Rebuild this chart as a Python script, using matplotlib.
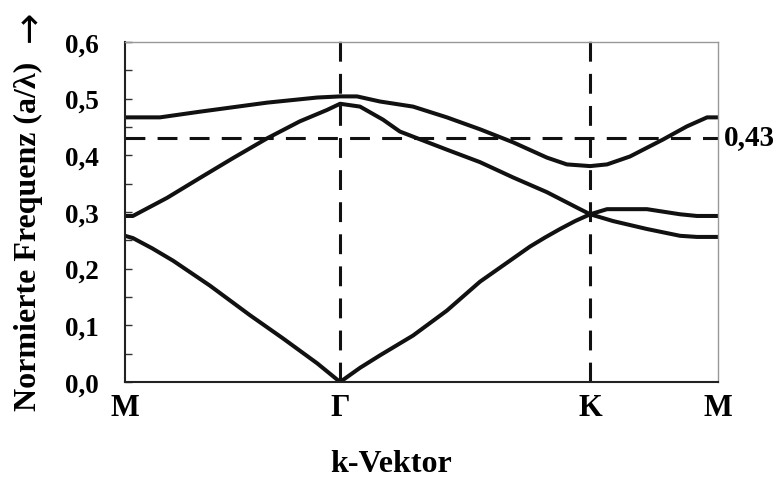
import matplotlib
matplotlib.use('Agg')
import matplotlib.pyplot as plt

plt.rcParams['font.family'] = ['Liberation Serif', 'DejaVu Serif']
plt.rcParams['font.weight'] = 'bold'

# k-path positions (M - Gamma - K - M)
k_points = [0.0, 0.572, 1.237, 1.577]
k_labels = ['M', 'Γ', 'K', 'M']

# band 1 (lowest)
k_band1 = [0.000, 0.021, 0.072, 0.128, 0.226, 0.332, 0.420, 0.511, 0.572,
           0.625, 0.678, 0.766, 0.856, 0.944, 1.032, 1.077, 1.117, 1.157,
           1.197, 1.237, 1.298, 1.388, 1.476, 1.521, 1.577]
f_band1 = [0.258, 0.254, 0.236, 0.214, 0.170, 0.118, 0.077, 0.033, 0.000,
           0.025, 0.047, 0.082, 0.126, 0.177, 0.218, 0.239, 0.255, 0.270,
           0.284, 0.296, 0.284, 0.270, 0.258, 0.256, 0.256]

# band 2
k_band2 = [0.000, 0.021, 0.112, 0.199, 0.287, 0.378, 0.465, 0.537, 0.572,
           0.625, 0.686, 0.731, 0.766, 0.856, 0.944, 1.032, 1.122, 1.210,
           1.237, 1.282, 1.388, 1.476, 1.521, 1.577]
f_band2 = [0.293, 0.293, 0.325, 0.360, 0.395, 0.430, 0.460, 0.480, 0.491,
           0.486, 0.463, 0.442, 0.433, 0.410, 0.388, 0.361, 0.335, 0.305,
           0.296, 0.305, 0.305, 0.296, 0.293, 0.293]

# band 3
k_band3 = [0.000, 0.093, 0.199, 0.378, 0.511, 0.572, 0.617, 0.678, 0.766,
           0.856, 0.944, 1.032, 1.122, 1.175, 1.237, 1.282, 1.343, 1.431,
           1.494, 1.548, 1.577]
f_band3 = [0.467, 0.467, 0.477, 0.493, 0.502, 0.504, 0.504, 0.495, 0.486,
           0.467, 0.446, 0.423, 0.396, 0.384, 0.381, 0.384, 0.398, 0.428,
           0.451, 0.467, 0.467]

gap_level = 0.43
gap_label = '0,43'

y_ticks = [0.0, 0.1, 0.2, 0.3, 0.4, 0.5, 0.6]
y_tick_labels = ['0,0', '0,1', '0,2', '0,3', '0,4', '0,5', '0,6']
y_minor = [0.05, 0.15, 0.25, 0.35, 0.45, 0.55]

fig = plt.figure(figsize=(7.78, 4.81), dpi=100)
ax = fig.add_axes([125/778, 1-383/481, (718-125)/778, (383-43)/481])

for kk, ff in [(k_band1, f_band1), (k_band2, f_band2), (k_band3, f_band3)]:
    ax.plot(kk, ff, color='#111111', lw=2.9, solid_joinstyle='round')

dash = (0, (6.5, 4))
for kp in k_points[1:3]:
    ax.plot([kp, kp], [0, 0.606], color='#111111', lw=2.2, linestyle=dash,
            clip_on=False)
ax.axhline(gap_level, color='#111111', lw=2.2, linestyle=dash)
ax.annotate(gap_label, xy=(1.0, gap_level), xycoords=ax.get_yaxis_transform(),
            xytext=(4, 1), textcoords='offset points',
            ha='left', va='center', fontsize=21, fontweight='bold')

ax.set_xlim(k_points[0], k_points[-1])
ax.set_ylim(0, 0.6)

ax.set_xticks(k_points)
ax.set_xticklabels(k_labels, fontsize=22, fontweight='bold')
ax.tick_params(axis='x', length=0, pad=8)

ax.set_yticks(y_ticks)
ax.set_yticklabels(y_tick_labels, fontsize=19.5, fontweight='bold')
ax.set_yticks(y_minor, minor=True)
ax.tick_params(axis='y', which='both', direction='in', length=5,
               width=1.0, color='#333333', pad=19)

for side in ['top', 'right']:
    ax.spines[side].set_color('#999999')
    ax.spines[side].set_linewidth(1.0)
for side in ['left', 'bottom']:
    ax.spines[side].set_color('#222222')
    ax.spines[side].set_linewidth(1.5)

fig.text(28/778, 1-236/481, 'Normierte Frequenz (a/λ)', rotation=90,
         ha='center', va='center', fontsize=23, fontweight='bold')
fig.text(30/778, 1-26/481, '→', rotation=90, family='DejaVu Sans',
         ha='center', va='center', fontsize=27, fontweight='normal')
fig.text(391/778, 1-465/481, 'k-Vektor', ha='center', va='center',
         fontsize=23, fontweight='bold')

fig.savefig('out.png', dpi=100)
